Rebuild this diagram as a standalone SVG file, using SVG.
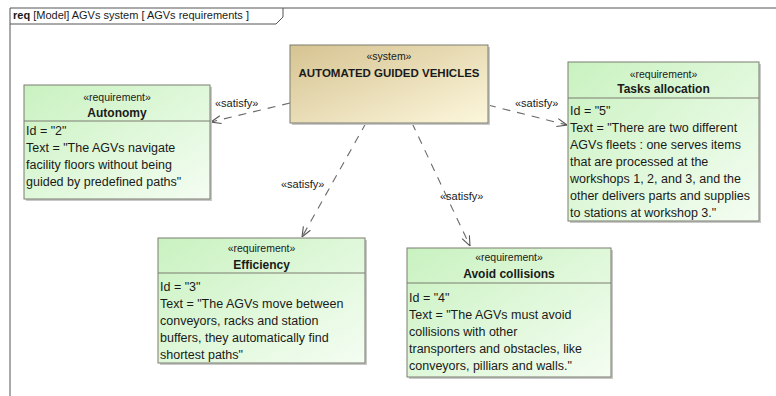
<svg xmlns="http://www.w3.org/2000/svg" width="776" height="396" viewBox="0 0 776 396">
<style>
text{font-family:"Liberation Sans",Arial,sans-serif;fill:#1a1a1a}
.st{font-size:10.5px;text-anchor:middle}
.ti{font-size:12px;font-weight:bold;text-anchor:middle}
.bd{font-size:12.5px}
.box{stroke:#7d7d70;stroke-width:1}
.sh{fill:#c8c8c8}
.div{stroke:#7d7d70;stroke-width:1}
.con{stroke:#6a6a6a;stroke-width:1.1;stroke-dasharray:8,7;fill:none}
.lbl{font-size:11px}
.frame{stroke:#555;stroke-width:1;fill:none}
</style>
<defs>
<linearGradient id="gReq" x1="0" y1="0" x2="1" y2="1">
<stop offset="0" stop-color="#c9f2c0"/>
<stop offset="1" stop-color="#f4fdf2"/>
</linearGradient>
<linearGradient id="gSys" x1="0" y1="0" x2="1" y2="1">
<stop offset="0" stop-color="#d6c391"/>
<stop offset="1" stop-color="#fcf7dc"/>
</linearGradient>
<marker id="open" viewBox="0 0 10 10" refX="10" refY="5" markerWidth="10" markerHeight="10" markerUnits="userSpaceOnUse" orient="auto">
<path d="M0,1 L10,5 L0,9" fill="none" stroke="#555" stroke-width="1.1"/>
</marker>
</defs>
<rect width="776" height="396" fill="#ffffff"/>
<g id="frame">
<path class="frame" d="M10,396 V8 H776"/>
<path class="frame" d="M10,24 H276 L283,17 V8"/>
<text x="13" y="19" style="font-size:11px"><tspan font-weight="bold">req</tspan> [Model] AGVs system [ AGVs requirements  ]</text>
</g>
<g id="connectors">
<line class="con" x1="290" y1="103" x2="211" y2="122" marker-end="url(#open)"/>
<text class="lbl" x="215" y="107">«satisfy»</text>
<line class="con" x1="488" y1="105" x2="567" y2="125" marker-end="url(#open)"/>
<text class="lbl" x="515" y="107">«satisfy»</text>
<line class="con" x1="366" y1="123" x2="302" y2="237" marker-end="url(#open)"/>
<text class="lbl" x="281" y="188">«satisfy»</text>
<line class="con" x1="412" y1="123" x2="470" y2="246" marker-end="url(#open)"/>
<text class="lbl" x="440" y="200">«satisfy»</text>
</g>
<g id="system">
<rect class="sh" x="292" y="47" width="198" height="78"/>
<rect class="box" x="290" y="45" width="198" height="78" fill="url(#gSys)"/>
<text class="st" x="389" y="60">«system»</text>
<text class="ti" x="389" y="77" style="font-size:11.5px">AUTOMATED GUIDED VEHICLES</text>
</g>
<g id="autonomy">
<rect class="sh" x="26" y="87" width="186" height="114"/>
<rect class="box" x="24" y="85" width="186" height="114" fill="url(#gReq)"/>
<text class="st" x="117" y="101">«requirement»</text>
<text class="ti" x="117" y="117">Autonomy</text>
<line class="div" x1="24" y1="121" x2="210" y2="121"/>
<text class="bd" x="26" y="135">Id = "2"</text>
<text class="bd" x="26" y="152">Text = "The AGVs navigate</text>
<text class="bd" x="26" y="169">facility floors without being</text>
<text class="bd" x="26" y="186">guided by predefined paths"</text>
</g>
<g id="tasks">
<rect class="sh" x="570" y="64" width="191" height="159"/>
<rect class="box" x="568" y="62" width="191" height="159" fill="url(#gReq)"/>
<text class="st" x="663.5" y="78">«requirement»</text>
<text class="ti" x="663.5" y="93">Tasks allocation</text>
<line class="div" x1="568" y1="98" x2="759" y2="98"/>
<text class="bd" x="570" y="115">Id = "5"</text>
<text class="bd" x="570" y="132">Text = "There are two different</text>
<text class="bd" x="570" y="149">AGVs fleets : one serves items</text>
<text class="bd" x="570" y="166">that are processed at the</text>
<text class="bd" x="570" y="183">workshops 1, 2, and 3, and the</text>
<text class="bd" x="570" y="200">other delivers parts and supplies</text>
<text class="bd" x="570" y="217">to stations at workshop 3."</text>
</g>
<g id="efficiency">
<rect class="sh" x="160" y="240" width="207" height="125"/>
<rect class="box" x="158" y="238" width="207" height="125" fill="url(#gReq)"/>
<text class="st" x="261.5" y="252">«requirement»</text>
<text class="ti" x="261.5" y="269">Efficiency</text>
<line class="div" x1="158" y1="273" x2="365" y2="273"/>
<text class="bd" x="160" y="291">Id = "3"</text>
<text class="bd" x="160" y="308">Text = "The AGVs move between</text>
<text class="bd" x="160" y="325">conveyors, racks and station</text>
<text class="bd" x="160" y="342">buffers, they automatically find</text>
<text class="bd" x="160" y="359">shortest paths"</text>
</g>
<g id="collisions">
<rect class="sh" x="409" y="250" width="204" height="129"/>
<rect class="box" x="407" y="248" width="204" height="129" fill="url(#gReq)"/>
<text class="st" x="509" y="261">«requirement»</text>
<text class="ti" x="509" y="278">Avoid collisions</text>
<line class="div" x1="407" y1="283" x2="611" y2="283"/>
<text class="bd" x="409" y="302">Id = "4"</text>
<text class="bd" x="409" y="319">Text = "The AGVs must avoid</text>
<text class="bd" x="409" y="336">collisions with other</text>
<text class="bd" x="409" y="353">transporters and obstacles, like</text>
<text class="bd" x="409" y="370">conveyors, pilliars and walls."</text>
</g>
</svg>
